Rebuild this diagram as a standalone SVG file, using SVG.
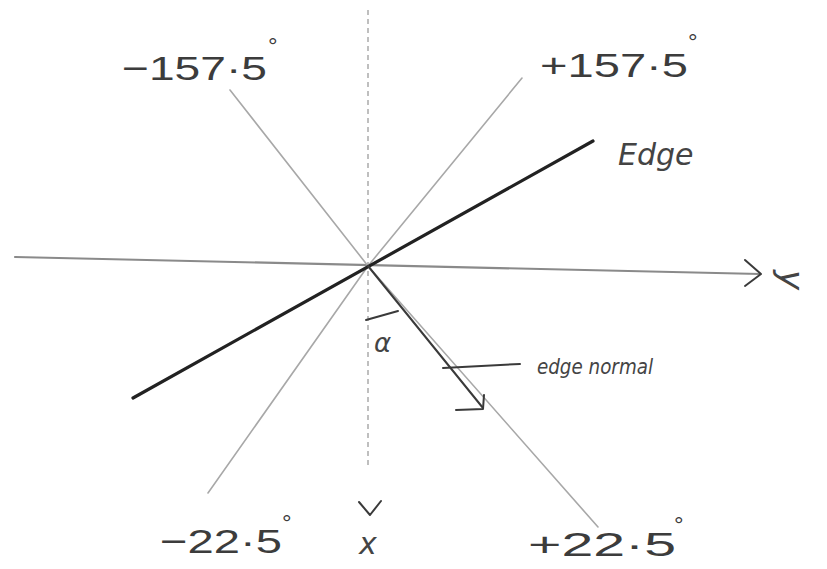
<svg xmlns="http://www.w3.org/2000/svg" width="827" height="569" viewBox="0 0 827 569">
<style>
.guide{stroke:#a8a8a8;stroke-width:1.6;fill:none;stroke-linecap:round;stroke-linejoin:round}
.axis{stroke:#8a8a8a;stroke-width:2.2;fill:none;stroke-linecap:round}
.dash{stroke:#b0b0b0;stroke-width:1.6;fill:none;stroke-dasharray:5 4}
.ink{stroke:#3a3a3a;stroke-width:2;fill:none;stroke-linecap:round;stroke-linejoin:round}
.edge{stroke:#222;stroke-width:3.2;fill:none;stroke-linecap:round}
.lbl{font-family:"Liberation Sans",Arial,sans-serif;fill:#3c3c3c}
.hand{font-family:"DejaVu Sans",sans-serif;font-style:italic;fill:#444}
</style>
<rect width="827" height="569" fill="#ffffff"/>
<g id="connectors">
  <line class="dash" x1="368" y1="10" x2="368" y2="468"/>
  <line class="axis" x1="15" y1="257" x2="760" y2="274"/>
  <polyline class="ink" points="745,260 761,274 745,286"/>
  <polyline class="guide" points="230,90 368,266 598,527"/>
  <polyline class="guide" points="522,78 368,266 208,493"/>
  <line class="edge" x1="133" y1="398" x2="593" y2="141"/>
  <line class="ink" x1="368" y1="266" x2="483" y2="408"/>
  <polyline class="ink" points="456,410 483,409 484,395"/>
  <line class="ink" x1="366" y1="320" x2="398" y2="311"/>
  <line class="ink" x1="443" y1="368" x2="520" y2="364"/>
  <polyline class="ink" points="359,502 370,515 381,501"/>
</g>
<g id="label-m157"><text class="lbl" x="122" y="80" font-size="34" textLength="145" lengthAdjust="spacingAndGlyphs">−157·5</text><text class="lbl" x="268" y="54" font-size="24">°</text></g>
<g id="label-p157"><text class="lbl" x="540" y="77" font-size="34" textLength="148" lengthAdjust="spacingAndGlyphs">+157·5</text><text class="lbl" x="688" y="50" font-size="24">°</text></g>
<g id="label-edge"><text class="hand" x="618" y="165" font-size="30">Edge</text></g>
<g id="label-y"><text class="hand" x="780" y="270" font-size="34" transform="rotate(90 780 270)">y</text></g>
<g id="label-alpha"><text class="hand" x="374" y="352" font-size="26">α</text></g>
<g id="label-normal"><text class="hand" x="537" y="374" font-size="22" textLength="116" lengthAdjust="spacingAndGlyphs">edge normal</text></g>
<g id="label-m22"><text class="lbl" x="160" y="553" font-size="34" textLength="122" lengthAdjust="spacingAndGlyphs">−22·5</text><text class="lbl" x="282" y="531" font-size="24">°</text></g>
<g id="label-x"><text class="hand" x="359" y="554" font-size="30">x</text></g>
<g id="label-p22"><text class="lbl" x="528" y="556" font-size="34" textLength="148" lengthAdjust="spacingAndGlyphs">+22·5</text><text class="lbl" x="674" y="533" font-size="24">°</text></g>
</svg>
